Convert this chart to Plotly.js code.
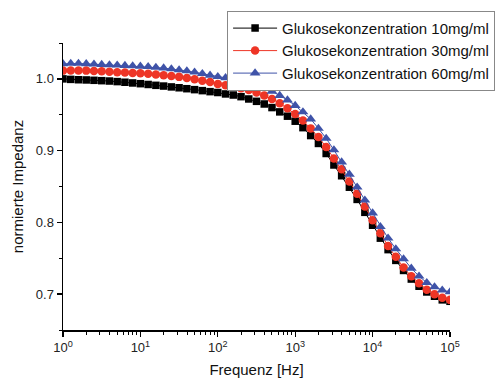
<!DOCTYPE html>
<html>
<head>
<meta charset="utf-8">
<script src="https://cdn.plot.ly/plotly-3.0.1.min.js"></script>
<style>html,body{margin:0;padding:0;background:#fff;}#chart{width:495px;height:379px;}</style>
</head>
<body>
<div id="chart"></div>
<script>
var frequency = [1, 1.259, 1.585, 1.995, 2.512, 3.162, 3.981, 5.012, 6.310, 7.943,
  10, 12.59, 15.85, 19.95, 25.12, 31.62, 39.81, 50.12, 63.10, 79.43,
  100, 125.9, 158.5, 199.5, 251.2, 316.2, 398.1, 501.2, 631.0, 794.3,
  1000, 1259, 1585, 1995, 2512, 3162, 3981, 5012, 6310, 7943,
  10000, 12589, 15849, 19953, 25119, 31623, 39811, 50119, 63096, 79433, 100000];

var glucose10 = [1.000, 0.9993, 0.9988, 0.9985, 0.998, 0.9975, 0.997, 0.9962, 0.9953, 0.9943,
  0.9933, 0.9922, 0.991, 0.990, 0.9888, 0.9876, 0.9863, 0.985, 0.9836, 0.9822,
  0.981, 0.979, 0.9775, 0.9752, 0.972, 0.9687, 0.965, 0.960, 0.954, 0.948,
  0.941, 0.932, 0.921, 0.910, 0.896, 0.880, 0.865, 0.849, 0.832, 0.814,
  0.796, 0.778, 0.762, 0.747, 0.733, 0.721, 0.711, 0.703, 0.697, 0.692, 0.690];

var glucose30 = [1.0115, 1.0118, 1.0118, 1.0115, 1.011, 1.0106, 1.010, 1.0093, 1.0088, 1.0083,
  1.0077, 1.007, 1.006, 1.005, 1.004, 1.0028, 1.0012, 0.9995, 0.9975, 0.9955,
  0.993, 0.9912, 0.9893, 0.987, 0.9845, 0.981, 0.977, 0.972, 0.966, 0.959,
  0.951, 0.942, 0.931, 0.919, 0.905, 0.889, 0.874, 0.857, 0.840, 0.822,
  0.803, 0.785, 0.767, 0.752, 0.737, 0.725, 0.715, 0.706, 0.700, 0.695, 0.692];

var glucose60 = [1.021, 1.0215, 1.0215, 1.021, 1.0205, 1.020, 1.0195, 1.019, 1.0185, 1.018,
  1.0175, 1.017, 1.016, 1.015, 1.0138, 1.0125, 1.011, 1.0093, 1.0072, 1.005,
  1.003, 1.0014, 0.9998, 0.9976, 0.9946, 0.9915, 0.9875, 0.9827, 0.9768, 0.9705,
  0.9628, 0.954, 0.944, 0.931, 0.917, 0.901, 0.884, 0.867, 0.849, 0.831,
  0.813, 0.794, 0.778, 0.763, 0.749, 0.736, 0.725, 0.716, 0.710, 0.7055, 0.703];

var seriesNames = ['Glukosekonzentration 10mg/ml', 'Glukosekonzentration 30mg/ml', 'Glukosekonzentration 60mg/ml'];
var xTickVals = [1, 10, 100, 1000, 10000, 100000];
var xTickText = ['10<sup>0</sup>', '10<sup>1</sup>', '10<sup>2</sup>', '10<sup>3</sup>', '10<sup>4</sup>', '10<sup>5</sup>'];

var font = 'Liberation Sans, Arial, sans-serif';

function trace(y, name, color, symbol, size) {
  return {
    x: frequency, y: y, name: name, type: 'scatter', mode: 'lines+markers',
    line: {color: color, width: 1},
    marker: {color: color, symbol: symbol, size: size, line: {width: 0}}
  };
}

var data = [
  trace(glucose10, seriesNames[0], '#000000', 'square', 7.5),
  trace(glucose30, seriesNames[1], '#ee3526', 'circle', 8.5),
  trace(glucose60, seriesNames[2], '#3f53a8', 'triangle-up', 9.5)
];

var layout = {
  width: 495, height: 379,
  margin: {l: 63, r: 45, t: 43, b: 49, autoexpand: false},
  paper_bgcolor: '#ffffff', plot_bgcolor: '#ffffff',
  font: {family: font, size: 13, color: '#222'},
  showlegend: true,
  legend: {
    x: 0.424, y: 1.112, xanchor: 'left', yanchor: 'top',
    bordercolor: '#888', borderwidth: 1, bgcolor: '#ffffff',
    font: {family: font, size: 15, color: '#111'},
    tracegroupgap: 0, itemwidth: 44
  },
  xaxis: {
    type: 'log', range: [0, 5],
    tickmode: 'array', tickvals: xTickVals, ticktext: xTickText,
    ticks: 'outside', ticklen: 5, tickwidth: 1.3, tickcolor: '#000',
    showline: true, linecolor: '#000', linewidth: 1.5,
    showgrid: false, zeroline: false, mirror: false,
    tickfont: {family: font, size: 13, color: '#222'},
    minor: {ticks: 'outside', ticklen: 3, tickwidth: 1, tickcolor: '#000', dtick: 'D1', showgrid: false},
    title: {text: 'Frequenz [Hz]', font: {family: font, size: 15, color: '#111'}, standoff: 10}
  },
  yaxis: {
    range: [0.65, 1.05], dtick: 0.1, tick0: 0.7, tickformat: '.1f',
    ticks: 'outside', ticklen: 5, tickwidth: 1.3, tickcolor: '#000',
    showline: true, linecolor: '#000', linewidth: 1.5,
    showgrid: false, zeroline: false, mirror: false,
    tickfont: {family: font, size: 13, color: '#222'},
    minor: {ticks: 'outside', ticklen: 3, tickwidth: 1, tickcolor: '#000', dtick: 0.05, showgrid: false},
    title: {text: 'normierte Impedanz', font: {family: font, size: 15, color: '#111'}, standoff: 8}
  }
};

Plotly.newPlot('chart', data, layout, {displayModeBar: false, staticPlot: true});
</script>
</body>
</html>
